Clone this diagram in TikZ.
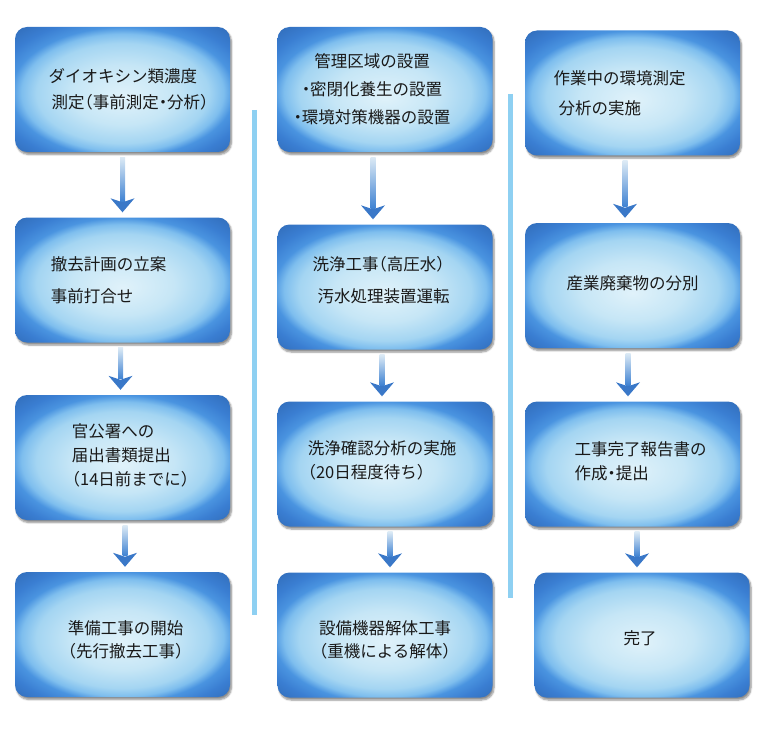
\documentclass[tikz,border=0pt]{standalone}
\usepackage{fontspec}
\newfontfamily\jpfont[RawFeature=+halt]{Noto Sans CJK JP}
\usepackage{tikz}
\usetikzlibrary{calc}
\usetikzlibrary{shadows.blur}

\definecolor{boxlight}{HTML}{E0F2FA}
\definecolor{boxsoft}{HTML}{C6E6F6}
\definecolor{boxmid}{HTML}{A4D5F2}
\definecolor{boxblue}{HTML}{7EBEEE}
\definecolor{boxedge}{HTML}{4A94E0}
\definecolor{boxdeep}{HTML}{3A7ED2}
\definecolor{boxdark}{HTML}{2A5FA6}
\definecolor{arrowtop}{HTML}{DCEAF5}
\definecolor{arrowbot}{HTML}{3F82D2}
\definecolor{arrowhead}{HTML}{3A78C8}
\definecolor{sepblue}{HTML}{8ED0F2}

\pgfdeclareradialshading{boxglow}{\pgfpoint{0bp}{-3bp}}{%
  color(0bp)=(boxlight); color(12bp)=(boxsoft); color(20bp)=(boxmid);
  color(23.5bp)=(boxblue); color(26bp)=(boxedge); color(30bp)=(boxdeep);
  color(40bp)=(boxdark)}

\tikzset{
  flowbox/.style={shade, shading=boxglow, rounded corners=12pt,
    minimum width=215pt, minimum height=125pt, inner sep=0pt,
    blur shadow={shadow xshift=1.5pt, shadow yshift=-2.5pt, shadow blur steps=6, shadow opacity=45}},
  boxtext/.style={align=left, inner sep=0pt, text=black!90,
    font=\jpfont\fontsize{16.5}{26}\selectfont},
  sepline/.style={line width=5pt, color=sepblue},
}

% down arrow between two boxes, at x = #3
\newcommand\flowarrow[3]{%
  \coordinate (top) at ($(#3,0 |- #1.south)+(0,5)$);
  \coordinate (tip) at ($(#3,0 |- #2.north)+(0,-5)$);
  \shade[top color=arrowtop, bottom color=arrowbot] ($(top)+(-2.5,0)$) rectangle ($(tip)+(2.5,-11)$);
  \fill[arrowhead] (tip) -- ++(-12,-14) -- ++(12,4) -- ++(12,-4) -- cycle;
}

\begin{document}
\begin{tikzpicture}[x=1pt,y=-1pt]
\useasboundingbox (0,0) rectangle (768,754);
\draw[sepline] (254.5,110) -- (254.5,615);
\draw[sepline] (510.5,94) -- (510.5,598);

% column 1
\draw (122.5,89.5) node[flowbox] (c1a) {} ++(6,0) node[boxtext] (t1a) {ダイオキシン類濃度\\\hspace*{3pt}測定（事前測定・分析）};
\draw (122.5,280) node[flowbox] (c1b) {} ++(-14,0) node[boxtext] (t1b) {撤去計画の立案\\[6pt]事前打合せ};
\draw (122.5,457.5) node[flowbox] (c1c) {} ++(8,-2) node[boxtext] (t1c) {官公署への\\[-2pt]届出書類提出\\[-2pt]（14日前までに）};
\draw (122.5,634.5) node[flowbox] (c1d) {} ++(3,5) node[boxtext] (t1d) {準備工事の開始\\[-3pt]（先行撤去工事）};

% column 2
\draw (385,89.5) node[flowbox] (c2a) {} ++(-13,0) node[boxtext, align=center] (t2a) {管理区域の設置\\[2pt]・密閉化養生の設置\\[2pt]・環境対策機器の設置};
\draw (385,287) node[flowbox] (c2b) {} ++(-4,-7) node[boxtext] (t2b) {洗浄工事（高圧水）\\[6pt]\hspace*{5pt}汚水処理装置運転};
\draw (385,464) node[flowbox] (c2c) {} ++(-3,-4) node[boxtext] (t2c) {洗浄確認分析の実施\\[-2pt]（20日程度待ち）};
\draw (385,635) node[flowbox] (c2d) {} ++(0,5) node[boxtext] (t2d) {設備機器解体工事\\[-3pt]（重機による解体）};

% column 3
\draw (632.5,93) node[flowbox] (c3a) {} ++(-13,0) node[boxtext] (t3a) {作業中の環境測定\\[4pt]\hspace*{5pt}分析の実施};
\draw (632.5,285.5) node[flowbox] (c3b) {} ++(0,-2) node[boxtext] (t3b) {産業廃棄物の分別};
\draw (632.5,464) node[flowbox] (c3c) {} ++(8,-3) node[boxtext] (t3c) {工事完了報告書の\\[-2pt]作成・提出};
\draw (642,635) node[flowbox] (c3d) {} ++(-2,3) node[boxtext] (t3d) {完了};

\foreach \a/\b/\x in {c1a/c1b/122.5,c1b/c1c/120.5,c1c/c1d/125,
                      c2a/c2b/373,c2b/c2c/382,c2c/c2d/390,
                      c3a/c3b/625,c3b/c3c/628,c3c/c3d/637} {
  \flowarrow{\a}{\b}{\x}
}
\end{tikzpicture}
\end{document}
